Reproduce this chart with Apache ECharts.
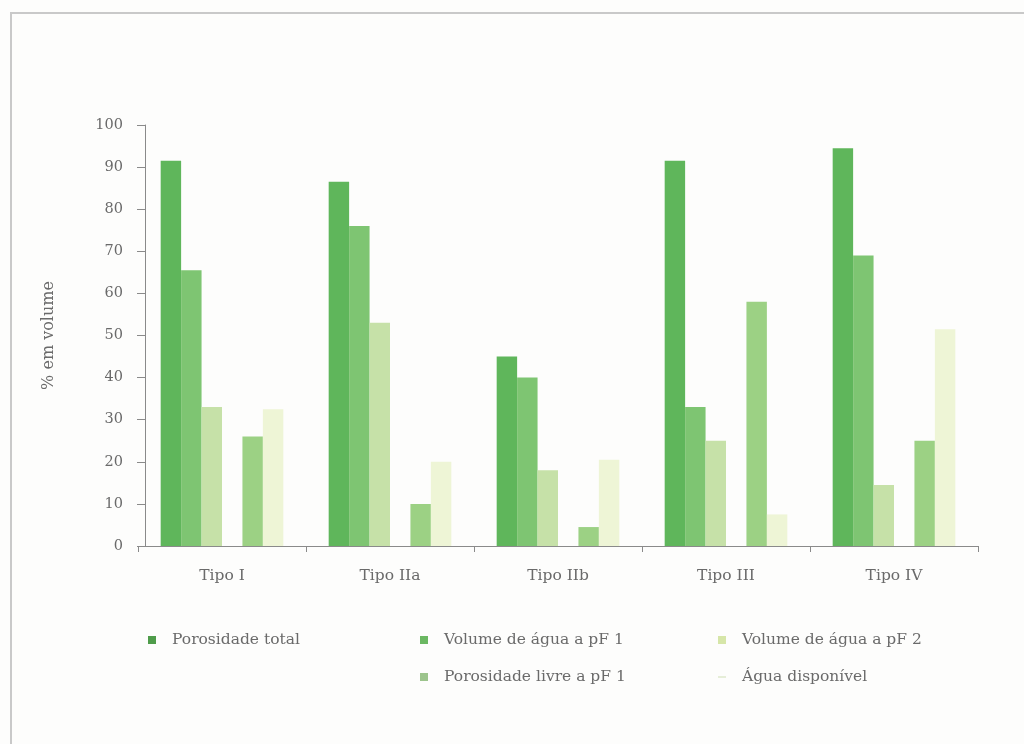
<!DOCTYPE html>
<html>
<head>
<meta charset="utf-8">
<style>
  html, body { margin: 0; padding: 0; background: #fdfdfc; }
  #chart { width: 1024px; height: 744px; }
</style>
<script src="https://cdn.jsdelivr.net/npm/echarts@6/dist/echarts.min.js"></script>
</head>
<body>
<div id="chart"></div>
<script>
// Soil types on the category axis
const categories = ['Tipo I', 'Tipo IIa', 'Tipo IIb', 'Tipo III', 'Tipo IV'];

// Percent of volume per soil type
const porosidadeTotal = [91.5, 86.5, 45, 91.5, 94.5];
const volumePF1 = [65.5, 76, 40, 33, 69];
const volumePF2 = [33, 53, 18, 25, 14.5];
const porosidadeLivre = [26, 10, 4.5, 58, 25];
const aguaDisponivel = [32.5, 20, 20.5, 7.5, 51.5];

// Y axis ticks
const yTicks = { min: 0, max: 100, interval: 10 };

const serif = 'DejaVu Serif';
const textGray = '#6a6a6a';

const seriesDefs = [
  { name: 'Porosidade total', data: porosidadeTotal, color: '#5fb65b', icon: '#4f9c4a' },
  { name: 'Volume de água a pF 1', data: volumePF1, color: '#7ec572', icon: '#6bb862' },
  { name: 'Volume de água a pF 2', data: volumePF2, color: '#c6e1a8', icon: '#d6e6a8' },
  { name: 'spacer', data: [], color: 'transparent', icon: 'transparent' },
  { name: 'Porosidade livre a pF 1', data: porosidadeLivre, color: '#9cd184', icon: '#9cc48c' },
  { name: 'Água disponível', data: aguaDisponivel, color: '#eef5d6', icon: '#e6eed8' }
];

function legendAt(name, left, top, h) {
  const def = seriesDefs.find(s => s.name === name);
  return {
    left: left, top: top,
    itemWidth: 8, itemHeight: h || 8, icon: 'rect',
    selectedMode: false,
    data: [{ name: name, itemStyle: { color: def.icon } }],
    textStyle: { fontFamily: serif, fontSize: 15.5, color: textGray, padding: [0, 0, 0, 11] }
  };
}

const chart = echarts.init(document.getElementById('chart'), null, { renderer: 'canvas' });

chart.setOption({
  backgroundColor: '#fdfdfc',
  animation: false,
  graphic: [
    { type: 'line', shape: { x1: 10, y1: 13, x2: 1024, y2: 13 }, style: { stroke: '#c9c9c9', lineWidth: 2 } },
    { type: 'line', shape: { x1: 11, y1: 13, x2: 11, y2: 744 }, style: { stroke: '#c9c9c9', lineWidth: 2 } }
  ],
  legend: [
    legendAt('Porosidade total', 143, 627),
    legendAt('Volume de água a pF 1', 415, 627),
    legendAt('Volume de água a pF 2', 713, 627),
    legendAt('Porosidade livre a pF 1', 415, 664),
    legendAt('Água disponível', 713, 664, 2)
  ],
  grid: { left: 138, right: 46, top: 125, bottom: 198 },
  xAxis: {
    type: 'category',
    data: categories,
    axisLine: { lineStyle: { color: '#8a8a8a', width: 1 } },
    axisTick: { show: true, length: 6, lineStyle: { color: '#8a8a8a' } },
    axisLabel: { fontFamily: serif, fontSize: 15.5, color: textGray, margin: 22 }
  },
  yAxis: {
    type: 'value',
    min: yTicks.min, max: yTicks.max, interval: yTicks.interval,
    offset: -7,
    name: '% em volume',
    nameLocation: 'middle',
    nameRotate: 90,
    nameGap: 88,
    nameTextStyle: { fontFamily: serif, fontSize: 16, color: textGray },
    splitLine: { show: false },
    axisLine: { show: true, lineStyle: { color: '#8a8a8a', width: 1 } },
    axisTick: { show: true, length: 8, lineStyle: { color: '#8a8a8a' } },
    axisLabel: { fontFamily: serif, fontSize: 14.5, color: textGray, margin: 22 }
  },
  series: seriesDefs.map(s => ({
    name: s.name,
    type: 'bar',
    data: s.data,
    barGap: '0%',
    barCategoryGap: '27%',
    itemStyle: { color: s.color },
    emphasis: { disabled: true }
  }))
});
</script>
</body>
</html>
